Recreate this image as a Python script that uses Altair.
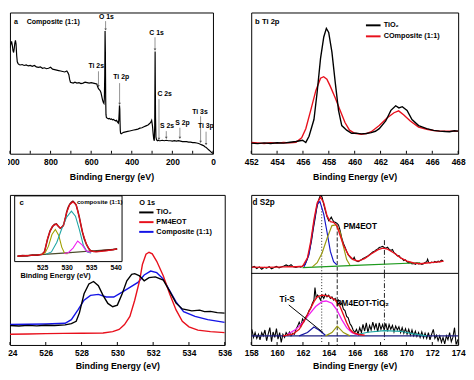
import altair as alt
import pandas as pd

FONT = "Liberation Sans"
RED = "#e8101c"
BLUE = "#1414e6"

# ---------------- panel a : survey spectrum ----------------
a_E = [1000, 996, 992, 988, 985, 982, 979, 976, 973, 970, 967, 964, 960, 955, 950, 940, 930, 920, 910, 900,
       890, 880, 870, 860, 850, 840, 830, 820, 810, 800, 790, 780, 770, 760, 750, 740, 730, 720, 714, 710,
       706, 702, 696, 688, 680, 670, 660, 650, 640, 630, 620, 610, 600, 590, 580, 572, 568, 564, 560, 556,
       552, 548, 544, 540, 537, 535, 533, 531.5, 530, 528.5, 527, 525, 522, 518, 514, 510, 505, 500, 495, 490,
       485, 480, 475, 470, 466, 464, 462, 460.5, 459, 458, 456.5, 455, 452, 448, 444, 440, 430, 420, 410, 400,
       390, 380, 370, 360, 350, 340, 330, 320, 312, 306, 302, 298, 295, 292, 289, 287, 286, 285, 284, 283,
       281, 278, 274, 270, 265, 260, 250, 240, 230, 220, 210, 200, 190, 180, 170, 160, 150, 140, 130, 120,
       110, 100, 90, 80, 70, 60, 55, 50, 45, 40, 35, 30, 25, 20, 15, 10, 5, 0]
a_I = [114, 118, 121, 116, 111, 109, 113, 119, 122, 118, 106, 99, 97, 96, 95.5, 96, 95, 95.5, 94.5, 95,
       94, 95, 93.5, 93, 93.5, 92, 92.5, 91.5, 92, 93, 91, 90.5, 90, 89.5, 89, 88.5, 88, 89, 87, 85,
       80, 77, 76.5, 76, 77, 76, 76.5, 75.5, 76, 77, 76.5, 76, 76.5, 76, 75.5, 75, 72, 70, 69, 68,
       66, 62, 58, 55, 54, 60, 85, 132, 110, 60, 42, 39, 38.5, 38, 37.5, 38, 37, 37.5, 36.5, 37,
       36, 35.5, 36, 34, 33, 36, 44, 52, 48, 36, 25, 22, 21.5, 22, 22.5, 23, 23.5, 24, 24.5, 25,
       25.5, 26, 26.5, 27.5, 28, 29, 30, 31, 32.5, 34, 36, 30, 22, 16, 14, 30, 70, 110, 75, 40,
       18, 15, 14, 14.5, 14, 14, 14.5, 14, 14.5, 14, 14, 13.5, 14, 13.5, 14, 13.5, 13, 13, 13, 12.5,
       12.5, 12, 12, 11.5, 11, 10, 9.5, 9, 8.5, 7.5, 7, 6, 5, 4, 3, 2, 1, 0]
a_lab = ["O 1s", "C 1s", "Ti 2s", "Ti 2p", "C 2s", "S 2s", "S 2p", "Ti 3s", "Ti 3p"]
a_lab_E = [525, 278, 575, 452, 238, 226, 150, 64, 35]
a_lab_I = [147, 130.3, 94.7, 82, 64.7, 29.3, 33, 45.3, 29.3]
a_arr_E = [529, 285.5, 564, 460, 266, 230, 163, 61, 34]
a_arr_top = [142.7, 125.3, 88.7, 76, 58.7, 24.3, 28, 40.3, 23.7]
a_arr_bot = [133.7, 112, 72.7, 53.7, 16, 17, 17, 12.7, 10.3]
a_ticks = [1000, 900, 800, 700, 600, 500, 400, 300, 200, 100, 0]
a_labels = [1000, 800, 600, 400, 200, 0]

# ---------------- panel b : Ti 2p ----------------
b_E_tio2 = [452.0, 452.5, 453.0, 453.5, 454.0, 454.5, 455.0, 455.46, 455.97, 456.22, 456.47, 456.85, 457.1,
            457.36, 457.61, 457.81, 457.99, 458.24, 458.5, 458.75, 459.0, 459.38, 459.76, 460.1, 460.52,
            460.9, 461.28, 461.6, 461.9, 462.4, 462.8, 463.17, 463.42, 463.68, 464.05, 464.43, 464.94,
            465.57, 466.1, 466.58, 467.0, 467.34, 467.7, 468.0]
b_I_tio2 = [11.5, 11, 11.8, 11.2, 12, 11.5, 12.5, 13.3, 14.7, 12.3, 19, 37.3, 67.3,
            104, 127.3, 136.7, 132.3, 110.7, 77.3, 47.3, 30.7, 25.7, 22.3, 22.5, 21.7,
            22, 23, 24.5, 27.3, 35.7, 47.3, 52.3, 50, 51.3, 47.3, 37.3, 30.7,
            27.3, 25.5, 24.7, 24.2, 24, 25, 24.7]
b_E_comp = [452.0, 452.5, 453.0, 453.5, 454.0, 454.5, 455.0, 455.46, 455.9, 456.22, 456.6, 457.0, 457.36,
            457.6, 457.85, 458.1, 458.5, 458.87, 459.25, 459.6, 460.0, 460.5, 460.9, 461.28, 461.9, 462.5,
            463.04, 463.4, 463.8, 464.3, 464.94, 465.57, 466.1, 466.58, 467.3, 468.0]
b_I_comp = [12.3, 11.8, 11.2, 12, 11.6, 12.2, 11.8, 12.5, 17.3, 27.3, 47.3, 69, 82.3,
            84, 81.3, 74, 60.7, 47.3, 34, 25.7, 22.3, 21.3, 22, 24, 30.7, 39,
            44.7, 46.7, 42.3, 35.7, 29, 26.7, 25.3, 24.7, 24.5, 24.7]
b_leg_E = [460.87, 462.0]
b_leg_I = [140, 128]
b_leg_txt = ["TiO\u2082", "COmposite (1:1)"]
b_ticks = [452, 454, 456, 458, 460, 462, 464, 466, 468]

# ---------------- panel c : O 1s ----------------
c_E_tio2 = [524.0, 524.5, 525.0, 525.5, 526.0, 526.5, 527.08, 527.43, 527.7, 527.88, 528.14, 528.41, 528.67,
            528.94, 529.2, 529.47, 529.74, 530.0, 530.27, 530.53, 530.8, 530.97, 531.24, 531.5, 531.77,
            532.12, 532.57, 532.92, 533.28, 533.63, 534.16, 534.6, 534.87, 535.2, 535.58, 536.0]
c_I_tio2 = [20, 19.5, 20.2, 19.6, 20.3, 20, 20.7, 22, 24.3, 33, 52.7, 62.7, 65.3,
            61, 51, 42.7, 39.3, 41, 52.7, 66, 72.7, 73.3, 71, 66, 69.3,
            70, 66.7, 55.3, 43, 37, 35, 35.8, 34.3, 34.6, 33.3, 32.7]
c_E_pm = [524.0, 525.0, 526.0, 527.0, 528.0, 529.2, 529.74, 530.1, 530.4, 530.7, 530.97, 531.24, 531.4,
          531.6, 531.77, 531.95, 532.2, 532.57, 532.92, 533.28, 533.63, 534.0, 534.5, 535.2, 536.0]
c_I_pm = [11, 11.3, 11.6, 11.9, 12.1, 12.3, 13.7, 16, 21, 29.3, 46, 66, 82.7,
          93.3, 95.3, 93.7, 86, 71, 52.7, 36, 24.3, 18.7, 15.3, 13.7, 12.7]
c_E_comp = [524.0, 525.0, 526.0, 527.08, 527.43, 527.8, 528.14, 528.5, 528.94, 529.38, 529.8, 530.27, 530.7,
            531.15, 531.5, 531.86, 532.2, 532.57, 532.92, 533.28, 533.7, 534.34, 535.05, 536.0]
c_I_comp = [21, 21.3, 21.6, 22.3, 26, 36, 46, 51, 52, 49.3, 49.3, 54.3, 59.3,
            64.3, 72, 76, 74.3, 67.7, 56, 44.3, 34.3, 29.3, 26, 23.3]
c_leg_E = [531.22, 532.02]
c_leg_I = [136.3, 126.3, 116.3]
c_leg_txt = ["TiO\u2082", "PM4EOT", "Composite (1:1)"]
c_ticks = [524, 526, 528, 530, 532, 534, 536]

# inset of panel c (composite 1:1 fit)
in_dom = [519.4, 541.3]
in_top = 68
in_E_base = [519.98, 530.0, 540.3]
in_I_base = [5.7, 9.0, 13.0]
in_E_data = [519.98, 521, 522, 523, 524, 525, 525.5, 526.1, 526.6, 527.1, 527.5, 527.9, 528.3, 528.7, 529.0,
             529.34, 529.7, 530.0, 530.3, 530.64, 531.0, 531.28, 531.6, 531.94, 532.3, 532.58, 532.9,
             533.22, 533.6, 534.07, 534.5, 534.85, 535.5, 536.5, 537.5, 538.5, 539.5, 540.3]
in_I_data = [5.5, 6.2, 5.9, 6.8, 6.5, 7.6, 10.5, 23, 31.5, 36, 38.5, 39, 36.5, 34.5, 35.5,
             37.5, 44, 51, 56, 59.5, 61.5, 62.5, 61, 58.5, 52, 46, 38,
             30.5, 23.5, 17.5, 13.5, 11.5, 10.5, 10.8, 11.5, 11.9, 12.4, 13.2]
in_E_fit = [519.98, 522, 524, 525.0, 525.5, 526.1, 526.6, 527.1, 527.9, 528.7, 529.34, 530.0, 530.64,
            531.28, 531.94, 532.58, 533.22, 534.07, 534.85, 536, 538, 540.3]
in_I_fit = [5.7, 6.3, 6.9, 7.5, 10, 24, 31, 36.7, 38.7, 34.7, 37.3, 50.7, 59,
            61.7, 59, 45.7, 30.7, 17.3, 11.3, 10, 11, 13]
in_E_olive = [524.8, 525.6, 526.3, 527.0, 527.7, 528.4, 529.0, 529.6, 530.2]
in_I_olive = [7.3, 9, 16, 28, 33.3, 27, 15, 8.5, 8.2]
in_E_teal = [525.8, 526.9, 528.0, 529.0, 530.0, 530.97, 531.8, 532.6, 533.4, 534.2, 535.0]
in_I_teal = [7.5, 10, 20, 34, 46, 52.3, 47, 33, 17, 10, 8.8]
in_E_mag = [529.5, 530.4, 531.3, 532.25, 533.2, 534.0, 534.9]
in_I_mag = [8.3, 9.5, 14, 21.3, 17, 11, 9.5]
in_ticks = [525, 530, 535, 540]

# ---------------- panel d : S 2p ----------------
d1_E_data = [158.05, 158.23, 158.43, 158.63, 158.81, 159.01, 159.19, 159.39, 159.57, 159.77, 159.95, 160.15,
             160.32, 160.53, 160.7, 160.91, 161.08, 161.26, 161.46, 161.66, 161.84, 162.02, 162.17, 162.35,
             162.55, 162.67, 162.8, 162.93, 163.05, 163.18, 163.31, 163.38, 163.48, 163.61, 163.74, 163.86,
             163.99, 164.09, 164.19, 164.29, 164.39, 164.49, 164.62, 164.75, 164.87, 165.0, 165.13, 165.25,
             165.38, 165.5, 165.63, 165.76, 165.88, 165.96, 166.06, 166.16, 166.26, 166.39, 166.52, 166.64,
             166.77, 166.9, 167.02, 167.15, 167.27, 167.4, 167.53, 167.65, 167.78, 167.9, 168.03, 168.16,
             168.28, 168.41, 168.54, 168.66, 168.79, 168.92, 169.04, 169.17, 169.3, 169.42, 169.55, 169.67,
             169.8, 169.93, 170.05, 170.18, 170.31, 170.43, 170.56, 170.69, 170.81, 170.94, 171.06, 171.19,
             171.32, 171.44, 171.57, 171.64, 171.72, 171.82, 171.95, 172.08, 172.2, 172.33, 172.45, 172.58,
             172.71, 172.83]
d1_I_data = [6, 7.3, 5, 6.7, 4.3, 6.3, 5.3, 7, 4.7, 6, 7.3, 5.7,
             6.7, 7.7, 8.7, 7.3, 9, 6.7, 6, 7, 6.3, 8, 9.3, 15.3,
             26, 34.3, 46, 56, 66, 74.3, 79.3, 81, 78.7, 71, 64.3, 58.7,
             54.3, 56, 58, 55.3, 53.3, 52.7, 51.7, 50, 44.3, 36.7, 31, 27.3,
             22.7, 19.3, 17, 15, 14.7, 16.7, 13.3, 12.7, 12, 13, 14, 15.3,
             16, 17.3, 18, 19.3, 20.7, 22, 23, 24.3, 25.3, 26.7, 27.3, 28,
             26.7, 26, 27, 25, 23.7, 24.7, 21.3, 20, 18, 18.3, 16, 15.3,
             13.3, 14, 12, 10.7, 11.3, 9.7, 10.3, 9.3, 10.7, 9.7, 10.3, 9.3,
             10, 11.3, 12, 14.7, 11.3, 10.7, 11.7, 11, 12.3, 11.3, 12.7, 12,
             13.7, 13]
d1_E_fit = [158.05, 159.0, 160.0, 161.0, 161.5, 161.97, 162.35, 162.6, 162.86, 163.1, 163.36, 163.61, 163.86,
            164.12, 164.37, 164.62, 164.87, 165.13, 165.5, 165.88, 166.26, 166.77, 167.27, 167.78, 168.16,
            168.54, 169.04, 169.55, 170.05, 170.56, 171.06, 171.57, 172.08, 172.58, 172.88]
d1_I_fit = [6.5, 6.2, 6.5, 7, 6.8, 7.3, 16, 32.7, 56, 72.7, 78.7, 72.7, 59.3,
            53.3, 52.7, 49.3, 39.3, 29.3, 19.3, 14.3, 12.7, 15.3, 20, 24.3, 26,
            25, 21, 16, 12.7, 10.7, 10, 10.7, 11.3, 12, 12.7]
d1_E_blue = [162.09, 162.47, 162.85, 163.1, 163.31, 163.61, 163.86, 164.12, 164.37, 164.62]
d1_I_blue = [6.7, 19.3, 52.7, 71, 74.3, 61, 42.7, 22.7, 12, 8.7]
d1_E_olive = [162.73, 163.1, 163.48, 163.86, 164.24, 164.55, 164.87, 165.13, 165.38, 165.63]
d1_I_olive = [6.7, 11, 21, 36, 49.3, 50, 42.7, 27.7, 14.3, 8.7]
d1_E_base = [161.97, 166.5, 171.06]
d1_I_base = [6.0, 8.5, 11.0]

d2_E_data = [158.05, 158.18, 158.3, 158.43, 158.56, 158.68, 158.81, 158.93, 159.06, 159.19, 159.31, 159.44,
             159.57, 159.69, 159.82, 159.95, 160.07, 160.2, 160.32, 160.45, 160.58, 160.7, 160.83, 160.96,
             161.08, 161.21, 161.34, 161.46, 161.59, 161.71, 161.84, 161.97, 162.09, 162.22, 162.35, 162.47,
             162.6, 162.73, 162.85, 162.93, 163.03, 163.13, 163.23, 163.36, 163.48, 163.61, 163.74, 163.86,
             163.99, 164.12, 164.24, 164.37, 164.49, 164.62, 164.75, 164.87, 165.0, 165.13, 165.25, 165.38,
             165.5, 165.63, 165.76, 165.88, 166.01, 166.14, 166.26, 166.39, 166.52, 166.64, 166.77, 166.9,
             167.02, 167.15, 167.27, 167.4, 167.53, 167.65, 167.78, 167.9, 168.03, 168.16, 168.28, 168.41,
             168.54, 168.66, 168.79, 168.92, 169.04, 169.17, 169.3, 169.42, 169.55, 169.67, 169.8, 169.93,
             170.05, 170.18, 170.31, 170.43, 170.56, 170.69, 170.81, 170.94, 171.06, 171.19, 171.32, 171.44,
             171.57, 171.7, 171.82, 171.95, 172.08, 172.2, 172.33, 172.45, 172.58, 172.71, 172.83, 172.96,
             173.09, 173.21, 173.34, 173.47, 173.59, 173.72, 173.84, 174.0]
d2_I_data = [16, 7.7, 12.7, 6.7, 11, 5.3, 12.7, 9.3, 15.3, 4.3, 11, 17.7,
             3.3, 13.3, 7.7, 16.7, 6, 12.7, 2.7, 11, 7.7, 12.7, 10, 13.3,
             9.3, 12, 11, 16, 19.3, 23.3, 19.3, 26.7, 24.3, 28.7, 31, 35.3,
             37.7, 42.7, 46, 58.7, 47.7, 51, 49.3, 46, 51, 47.7, 52, 49.3,
             51, 47.7, 49.3, 46, 47.7, 44.3, 46, 41, 42.7, 36.7, 35.3, 29.3,
             27.7, 22, 19.3, 15.3, 12.7, 16, 11, 17.7, 12.7, 21, 14.3, 22.7,
             12.7, 20, 15.3, 23.3, 16.7, 22, 13.3, 22.7, 16, 21, 15.3, 22,
             14, 21, 16, 20, 13.3, 19.3, 15.3, 18.7, 12.7, 17.7, 12, 16.7,
             11, 16, 10, 15.3, 9.3, 14, 8.7, 12.7, 7.7, 13.3, 7.3, 12,
             6.7, 12.7, 5.3, 11, 16, 6.7, 10, 4.3, 9.3, 2.7, 7.7, 1,
             9.3, 5.3, 12.7, 3.3, 7.7, 17.7, 0.5, 6]
d2_E_fit = [160.45, 161.21, 161.71, 162.09, 162.47, 162.85, 163.1, 163.48, 163.99, 164.49, 164.87, 165.13,
            165.38, 165.63, 165.88, 166.26, 166.77]
d2_I_fit = [9.3, 11, 16, 24.3, 34.3, 44.3, 49.3, 51, 50, 46, 39.3, 31,
            22.7, 16, 12.7, 11, 10]
d2_E_mag = [160.83, 161.46, 161.97, 162.47, 162.98, 163.48, 163.79, 164.24, 164.62, 165.0, 165.38, 165.76, 166.26]
d2_I_mag = [11, 16, 22.7, 31, 39.3, 44.3, 45, 42.7, 36, 26, 17.7, 12.7, 10]
d2_E_blue = [161.71, 162.35, 162.85, 163.23, 163.74]
d2_I_blue = [9.3, 12.7, 18.3, 15.3, 10]
d2_E_olive = [163.74, 164.24, 164.65, 165.13, 165.63]
d2_I_olive = [9.3, 12.7, 19.3, 12.7, 9.3]
d2_E_teal = [166.0, 167.0, 168.3, 169.55, 170.56, 171.57]
d2_I_teal = [10, 13, 14.7, 14, 11.3, 9.3]
d2_E_base = [158.0, 174.0]
d2_I_base = [9.3, 9.3]
d_vline_E = [163.45, 164.65, 168.3]
d1_vline_top = [67, 49.3, 34.3]
d2_vline_top = [73.3, 73.3, 73.3]
d2_vline_bot = [2.7, 0, 3]
d_ticks = [158, 160, 162, 164, 166, 168, 170, 172, 174]


# ---------------- helpers ----------------
def sc(lo, hi, **kw):
    return alt.Scale(domain=[lo, hi], nice=False, zero=False, **kw)


def make_axis(labels, lp, tp, **kw):
    return alt.Axis(values=labels, title="Binding Energy (eV)", labelFlush=False, format="d",
                    labelPadding=lp, titlePadding=tp, **kw)


def X(field, xs):
    # xs is (scale, axis): every layer of a panel carries the same axis definition
    return alt.X(field, type="quantitative", scale=xs[0], axis=xs[1])


def Y(field, ys):
    return alt.Y(field, type="quantitative", scale=ys, axis=None)


def curve(E, I, xs, ys, color, width=1.3):
    d = pd.DataFrame({"E": E, "I": I, "o": list(range(len(E)))})
    return alt.Chart(d).mark_line(color=color, strokeWidth=width, clip=True).encode(
        x=X("E", xs), y=Y("I", ys), order="o:Q")


def texts(E, I, labels, xs, ys, size, align="left"):
    d = pd.DataFrame({"E": E, "I": I, "t": labels})
    return alt.Chart(d).mark_text(align=align, baseline="middle", font=FONT, fontSize=size,
                                  fontWeight="bold", color="black").encode(
        x=X("E", xs), y=Y("I", ys), text="t:N")


def tick_layer(vals, xs, H):
    return alt.Chart(pd.DataFrame({"E": vals})).mark_rule(color="black", strokeWidth=1).encode(
        x=X("E", xs), y=alt.value(H), y2=alt.value(H - 3))


def legend_lines(x1, x2, ys_vals, colors, xs, ys, width=2):
    d = pd.DataFrame({"x1": [x1] * len(ys_vals), "x2": [x2] * len(ys_vals), "y": ys_vals, "c": colors})
    return alt.Chart(d).mark_rule(strokeWidth=width).encode(
        x=X("x1", xs), x2="x2:Q", y=Y("y", ys), color=alt.Color("c:N", scale=None))


# ---------------- panel a ----------------
HA, WA = 144, 207
xa = (sc(0, 1000, reverse=True), make_axis(a_labels, 4, 7))
ya = sc(0, 152)
arr = pd.DataFrame({"E": a_arr_E, "I1": a_arr_top, "I2": a_arr_bot})
panel_a = alt.layer(
    curve(a_E, a_I, xa, ya, "black", 1.2),
    tick_layer(a_ticks, xa, HA),
    alt.Chart(arr).mark_rule(color="#777777", strokeWidth=0.8).encode(x=X("E", xa), y=Y("I1", ya), y2="I2:Q"),
    alt.Chart(arr).mark_point(shape="triangle-down", filled=True, size=7, color="#555555", opacity=1).encode(
        x=X("E", xa), y=Y("I2", ya)),
    texts(a_lab_E, a_lab_I, a_lab, xa, ya, 7, align="center"),
    texts([980.7, 917.9], [142, 142], ["a", "Composite (1:1)"], xa, ya, 7.2),
).properties(width=WA, height=HA)

# ---------------- panel b ----------------
HB, WB = 144, 211
xb = (sc(452, 468), make_axis(b_ticks, 4, 7))
yb = sc(0, 154)
panel_b = alt.layer(
    curve(b_E_comp, b_I_comp, xb, yb, RED, 1.4),
    curve(b_E_tio2, b_I_tio2, xb, yb, "black", 1.4),
    tick_layer(b_ticks, xb, HB),
    legend_lines(b_leg_E[0], b_leg_E[1], b_leg_I, ["black", RED], xb, yb),
    texts([462.24, 462.24], b_leg_I, b_leg_txt, xb, yb, 7.4),
    texts([452.3], [144], ["b Ti 2p"], xb, yb, 7.8),
).properties(width=WB, height=HB)

# ---------------- panel c ----------------
HC, WC = 153, 219
xc = (sc(524, 536), make_axis(c_ticks, 4, 5))
yc = sc(0, 154.3)
xs_in = (alt.Scale(domain=in_dom, range=[4.8, 114.3], nice=False, zero=False),
         make_axis(in_ticks, 2, 1, orient="bottom", offset=-85, labelFontSize=7, titleFontSize=7.5,
                   titleX=46))
ys_in = alt.Scale(domain=[0, in_top], range=[68, 1], nice=False, zero=False)
main_c = alt.layer(
    curve(c_E_comp, c_I_comp, xc, yc, BLUE, 1.4),
    curve(c_E_pm, c_I_pm, xc, yc, RED, 1.4),
    curve(c_E_tio2, c_I_tio2, xc, yc, "black", 1.4),
    tick_layer(c_ticks, xc, HC),
    legend_lines(c_leg_E[0], c_leg_E[1], c_leg_I, ["black", RED, BLUE], xc, yc),
    texts([532.18] * 3, c_leg_I, c_leg_txt, xc, yc, 7.5),
    texts([531.22], [146.3], ["O 1s"], xc, yc, 7.5),
)
frame = pd.DataFrame({"x1": [in_dom[0]], "x2": [in_dom[1]], "y1": [0], "y2": [in_top]})
inset = alt.layer(
    alt.Chart(frame).mark_rect(fill="white", stroke="black", strokeWidth=1).encode(
        x=X("x1", xs_in), x2="x2:Q", y=Y("y1", ys_in), y2="y2:Q"),
    curve(in_E_base, in_I_base, xs_in, ys_in, "#4a4a2a", 1.1),
    curve(in_E_data, in_I_data, xs_in, ys_in, "#7a1010", 1.6),
    curve(in_E_olive, in_I_olive, xs_in, ys_in, "#a0a000", 1.1),
    curve(in_E_teal, in_I_teal, xs_in, ys_in, "#1fa5a5", 1.1),
    curve(in_E_mag, in_I_mag, xs_in, ys_in, "#f020f0", 1.1),
    curve(in_E_fit, in_I_fit, xs_in, ys_in, RED, 1.1),
    texts([520.4], [61], ["c"], xs_in, ys_in, 8),
    texts([532.1], [61.3], ["composite (1:1)"], xs_in, ys_in, 6.3),
)
panel_c = alt.layer(main_c, inset).resolve_scale(x="independent", y="independent").properties(
    width=WC, height=HC)

# ---------------- panel d (two stacked sub-plots in one view) ----------------
WD, HD = 211, 153
HD1 = 80
xd = (sc(158, 174), make_axis(d_ticks, 4, 5))
yd1 = alt.Scale(domain=[0, 81], range=[HD1, 0], nice=False, zero=False)
yd2 = alt.Scale(domain=[0, 73.3], range=[HD, HD1], nice=False, zero=False)
styles = [[1, 2], [4, 2], [5, 2, 1, 2]]


def vlines(tops, bots, ys):
    layers = []
    for e, t, b, s in zip(d_vline_E, tops, bots, styles):
        d = pd.DataFrame({"E": [e], "t": [t], "b": [b]})
        layers.append(alt.Chart(d).mark_rule(color="#222222", strokeWidth=1, strokeDash=s).encode(
            x=X("E", xd), y=Y("t", ys), y2="b:Q"))
    return layers


divider = pd.DataFrame({"x1": [158], "x2": [174], "y": [0]})
d_top = alt.layer(
    curve(d1_E_data, d1_I_data, xd, yd1, "black", 1.1),
    *vlines(d1_vline_top, [0, 0, 0], yd1),
    curve(d1_E_base, d1_I_base, xd, yd1, "#1e9a1e", 1.2),
    curve(d1_E_blue, d1_I_blue, xd, yd1, "#1414c8", 1.2),
    curve(d1_E_olive, d1_I_olive, xd, yd1, "#9a9a10", 1.2),
    curve(d1_E_fit, d1_I_fit, xd, yd1, RED, 1.4),
    alt.Chart(divider).mark_rule(color="black", strokeWidth=1).encode(
        x=X("x1", xd), x2="x2:Q", y=Y("y", yd1)),
    texts([158.1], [72.7], ["d S2p"], xd, yd1, 8.3),
    texts([165.13], [47.7], ["PM4EOT"], xd, yd1, 8.3),
)

tis = pd.DataFrame({"x1": [160.9], "x2": [163.56], "y1": [41], "y2": [12.7]})
d_bot = alt.layer(
    curve(d2_E_data, d2_I_data, xd, yd2, "black", 1.1),
    tick_layer(d_ticks, xd, HD),
    *vlines(d2_vline_top, d2_vline_bot, yd2),
    curve(d2_E_base, d2_I_base, xd, yd2, "#1c1c80", 1.4),
    curve(d2_E_teal, d2_I_teal, xd, yd2, "#1fa5a5", 1.2),
    curve(d2_E_blue, d2_I_blue, xd, yd2, "#1414a0", 1.2),
    curve(d2_E_olive, d2_I_olive, xd, yd2, "#9a9a10", 1.2),
    curve(d2_E_mag, d2_I_mag, xd, yd2, "#f020f0", 1.3),
    curve(d2_E_fit, d2_I_fit, xd, yd2, RED, 1.4),
    alt.Chart(tis).mark_rule(color="black", strokeWidth=1).encode(
        x=X("x1", xd), x2="x2:Q", y=Y("y1", yd2), y2="y2:Q"),
    texts([160.78], [46], ["Ti-S"], xd, yd2, 8.3, align="center"),
    texts([164.57], [42], ["PM4EOT-TiO\u2082"], xd, yd2, 8.3),
)
panel_d = alt.layer(d_top, d_bot).resolve_scale(y="independent").properties(width=WD, height=HD)

chart = alt.concat(
    panel_a, panel_b, panel_c, panel_d, columns=2, spacing={"row": 42, "column": 27},
    bounds="flush", align="each"
).properties(
    padding={"left": -8, "top": 0, "right": 0, "bottom": -2}
).configure_view(stroke="black", strokeWidth=1).configure_axis(
    labelFont=FONT, titleFont=FONT, labelFontSize=8.5, titleFontSize=9, labelFontWeight="bold",
    titleFontWeight="bold", labelColor="black", titleColor="black", domain=False, ticks=False, grid=False
)

chart.save("out.html", embed_options={"renderer": "svg", "actions": False})
